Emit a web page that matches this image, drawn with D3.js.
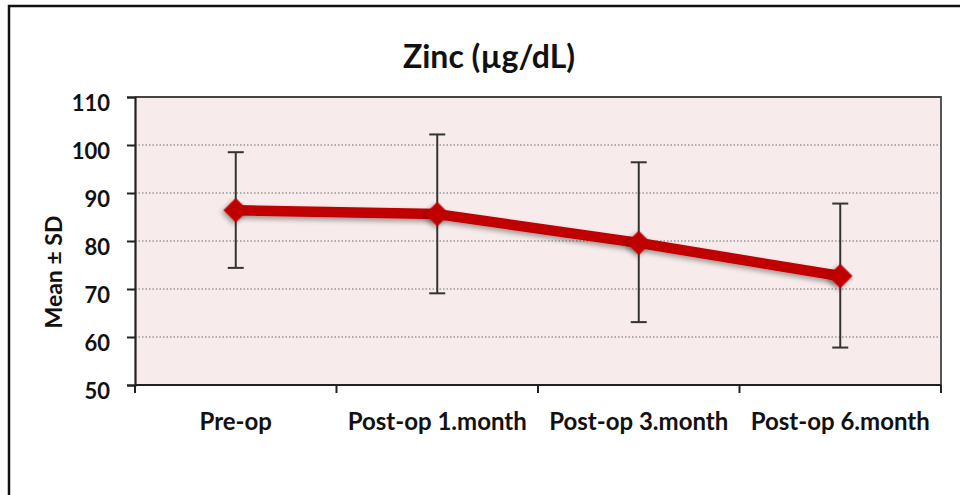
<!DOCTYPE html>
<html>
<head>
<title>Zinc</title>
<style>
body { margin: 0; background: #fff; }
svg { display: block; }
</style>
<script src="https://d3js.org/d3.v7.min.js"></script>
</head>
<body>
<svg id="chart" width="960" height="495"></svg>
<script>
const categories = ["Pre-op", "Post-op 1.month", "Post-op 3.month", "Post-op 6.month"];
const means = [86.4, 85.6, 79.6, 72.7];
const sdUpper = [98.5, 102.2, 96.4, 87.8];
const sdLower = [74.4, 69.1, 63.1, 57.8];
const yTicks = [50, 60, 70, 80, 90, 100, 110];

const svg = d3.select("#chart");
const FONT = "Lato, 'Open Sans', sans-serif";

// outer frame, right and bottom edges run off the picture
svg.append("rect")
   .attr("x", 9).attr("y", 6)
   .attr("width", 1000).attr("height", 600)
   .attr("fill", "none").attr("stroke", "#111").attr("stroke-width", 2.5);

const plotL = 135, plotR = 941, plotT = 97, plotB = 385;

const x = d3.scaleBand().domain(categories).range([plotL, plotR]);
const y = d3.scaleLinear().domain([50, 110]).range([plotB, plotT]);

svg.append("rect")
   .attr("x", plotL).attr("y", plotT)
   .attr("width", plotR - plotL).attr("height", plotB - plotT)
   .attr("fill", "#f7ebeb");

// dotted grid
svg.append("g").selectAll("line")
   .data(yTicks.filter(d => d > 50 && d < 110))
   .enter().append("line")
   .attr("x1", plotL).attr("x2", plotR)
   .attr("y1", d => y(d)).attr("y2", d => y(d))
   .attr("stroke", "#999").attr("stroke-width", 1.5)
   .attr("stroke-dasharray", "1.5,2");

// top and right frame of plot
svg.append("path")
   .attr("d", `M${plotL},${plotT}H${plotR}V${plotB}`)
   .attr("fill", "none").attr("stroke", "#444").attr("stroke-width", 1.8);

// y axis
const yAxis = svg.append("g")
   .attr("transform", `translate(${plotL},0)`)
   .call(d3.axisLeft(y).tickValues(yTicks).tickSize(8).tickPadding(17));
yAxis.select(".domain").attr("stroke", "#222").attr("stroke-width", 2.2);
yAxis.selectAll(".tick line").attr("stroke", "#222").attr("stroke-width", 2);
yAxis.selectAll("text")
   .attr("font-family", FONT).attr("font-weight", "bold")
   .attr("font-size", 22).attr("fill", "#111")
   .attr("dy", "0.6em");

// x axis, ticks between categories
const bounds = categories.map(c => x(c)).concat([x(categories[categories.length - 1]) + x.bandwidth()]);
const xg = svg.append("g");
xg.append("line")
  .attr("x1", plotL).attr("x2", plotR)
  .attr("y1", plotB).attr("y2", plotB)
  .attr("stroke", "#222").attr("stroke-width", 2.2);
xg.selectAll(".xt").data(bounds).enter().append("line")
  .attr("x1", d => d).attr("x2", d => d)
  .attr("y1", plotB).attr("y2", plotB + 8)
  .attr("stroke", "#222").attr("stroke-width", 2);
xg.selectAll("text").data(categories).enter().append("text")
  .attr("x", d => x(d) + x.bandwidth() / 2)
  .attr("y", 430)
  .attr("text-anchor", "middle")
  .attr("font-family", FONT).attr("font-weight", "bold")
  .attr("font-size", 24).attr("fill", "#111")
  .text(d => d);

// title and y label
svg.append("text")
   .attr("x", 489).attr("y", 68)
   .attr("text-anchor", "middle")
   .attr("font-family", FONT).attr("font-weight", "bold")
   .attr("font-size", 32).attr("fill", "#111")
   .text("Zinc (µg/dL)");

svg.append("text")
   .attr("transform", "translate(62,272) rotate(-90)")
   .attr("text-anchor", "middle")
   .attr("font-family", FONT).attr("font-weight", "bold")
   .attr("font-size", 23).attr("fill", "#111")
   .text("Mean ± SD");

const cx = d => x(d) + x.bandwidth() / 2;

// error bars
const eb = svg.append("g").selectAll("g").data(categories).enter().append("g");
eb.append("line")
  .attr("x1", d => cx(d)).attr("x2", d => cx(d))
  .attr("y1", (d, i) => y(sdUpper[i])).attr("y2", (d, i) => y(sdLower[i]))
  .attr("stroke", "#333").attr("stroke-width", 2);
eb.append("line")
  .attr("x1", d => cx(d) - 8).attr("x2", d => cx(d) + 8)
  .attr("y1", (d, i) => y(sdUpper[i])).attr("y2", (d, i) => y(sdUpper[i]))
  .attr("stroke", "#333").attr("stroke-width", 2);
eb.append("line")
  .attr("x1", d => cx(d) - 8).attr("x2", d => cx(d) + 8)
  .attr("y1", (d, i) => y(sdLower[i])).attr("y2", (d, i) => y(sdLower[i]))
  .attr("stroke", "#333").attr("stroke-width", 2);

// shadow for the line and markers
const defs = svg.append("defs");
const f = defs.append("filter").attr("id", "shadow")
   .attr("x", "-20%").attr("y", "-20%").attr("width", "140%").attr("height", "160%");
f.append("feDropShadow").attr("dx", 0).attr("dy", 3).attr("stdDeviation", 2.5)
   .attr("flood-color", "#000").attr("flood-opacity", 0.35);

const line = d3.line().x(d => cx(d)).y((d, i) => y(means[i]));
svg.append("path")
   .datum(categories)
   .attr("d", line)
   .attr("fill", "none").attr("stroke", "#c00000")
   .attr("stroke-width", 10.5).attr("stroke-linejoin", "round")
   .attr("filter", "url(#shadow)");

const diamond = d3.symbol().type(d3.symbolSquare).size(300);
svg.append("g").selectAll("path").data(categories).enter().append("path")
   .attr("d", diamond)
   .attr("transform", (d, i) => `translate(${cx(d)},${y(means[i])}) rotate(45)`)
   .attr("fill", "#c00000")
   .attr("filter", "url(#shadow)");
</script>
</body>
</html>
